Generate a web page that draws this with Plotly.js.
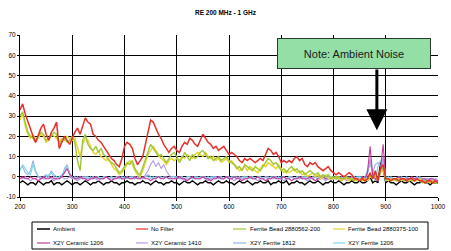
<!DOCTYPE html>
<html>
<head>
<meta charset="utf-8">
<script src="https://cdn.plot.ly/plotly-3.0.1.min.js"></script>
<style>html,body{margin:0;padding:0;background:#fff}#chart{width:451px;height:251px}</style>
</head>
<body>
<div id="chart"></div>
<script>
// Frequency axis (MHz), 5 MHz steps from 200 to 1000
const freq = [];
for (let f = 200; f <= 1000; f += 5) freq.push(f);

const seriesNames = ["Ambient", "No Filter", "Ferrite Bead 2880562-200", "Ferrite Bead 2880375-100",
  "X2Y Ceramic 1206", "X2Y Ceramic 1410", "X2Y Ferrite 1812", "X2Y Ferrite 1206"];

const ambient = [
 -3,-2,-3,-4,-3,-3,-4,-2,-3,-4,-3,-3,-2,-4,-3,-3,-4,-3,-2,-3,
 -4,-3,-3,-4,-3,-2,-3,-4,-3,-3,-2,-3,-4,-3,-3,-2,-3,-3,-4,-3,
 -3,-2,-3,-3,-4,-3,-3,-2,-3,-3,-4,-3,-2,-3,-3,-4,-3,-3,-2,-3,
 -3,-4,-3,-2,-3,-3,-2,-3,-4,-3,-3,-2,-3,-3,-4,-3,-2,-3,-3,-2,
 -3,-3,-4,-3,-2,-3,-3,-2,-3,-4,-3,-3,-2,-3,-3,-2,-4,-3,-3,-2,
 -3,-3,-2,-4,-3,-3,-2,-3,-3,-4,-3,-2,-3,-3,-2,-3,-4,-3,-3,-2,
 -3,-3,-2,-3,-4,-3,-3,-2,-3,-3,-2,-3,-3,-2,0,-3,-2,-3,7,4,
 -3,-2,-3,-3,-4,-3,-2,-3,-3,-2,-3,-4,-3,-3,-2,-3,-3,-4,-3,-3,
 -3];

const noFilter = [
 33,36,31,27,23,20,17,21,24,26,21,18,22,24,27,14,17,20,18,16,
 19,22,24,21,25,29,27,26,21,20,18,17,15,13,11,9,8,6,5,9,
 15,17,16,14,9,6,8,10,16,22,28,27,24,21,19,16,14,12,14,15,
 13,12,15,17,16,19,18,16,15,18,21,19,17,16,14,15,13,14,15,13,
 11,12,11,10,8,7,9,8,9,8,7,8,9,8,11,14,13,11,12,10,
 7,8,7,8,7,9,10,8,9,6,5,7,6,7,5,4,3,4,5,3,
 2,1,2,1,0,1,2,1,-1,-1,-2,-1,-2,-1,2,-1,3,-2,4,6,
 -1,-1,-2,-1,-1,-2,-1,-1,-2,-1,-1,-2,-1,-2,-2,-3,-2,-2,-3,-2,
 -3];

const bead562 = [
 30,32,27,22,20,19,17,20,22,21,18,19,20,22,21,16,18,19,17,18,
 20,17,8,3,18,21,16,14,13,15,12,14,11,10,8,7,6,4,2,3,
 5,7,6,8,4,2,1,5,9,13,16,14,12,10,11,9,7,9,11,12,
 10,7,9,12,10,8,11,9,10,12,13,11,9,10,8,9,10,8,9,10,
 8,7,6,4,5,3,6,5,4,3,5,4,3,5,7,9,8,6,7,5,
 3,4,2,4,5,3,4,2,3,1,2,3,2,1,2,0,1,0,1,-1,
 0,-1,0,-1,-1,0,-1,-1,-2,-1,-2,-1,-2,-1,1,-1,2,-2,3,5,
 -2,-1,-2,-1,-2,-2,-1,-2,-2,-1,-2,-2,-1,-2,-3,-2,-3,-2,-3,-3,
 -3];

const bead375 = [
 28,31,25,21,19,21,18,19,21,20,17,18,21,20,19,17,19,18,20,19,
 18,19,15,10,16,19,18,15,12,11,13,10,9,8,9,6,4,3,1,2,
 4,6,8,6,3,1,0,3,7,11,13,15,13,11,9,8,6,8,9,8,
 9,8,10,9,11,10,9,11,12,11,10,12,10,9,10,8,9,7,8,9,
 7,8,6,5,3,4,5,3,5,4,3,2,4,6,5,7,6,5,4,6,
 4,2,3,2,3,4,2,3,1,2,0,1,2,0,1,-1,0,1,-1,0,
 -1,0,-1,-2,-1,-1,-2,-1,-1,-2,-1,-2,-1,-2,0,-1,1,-2,2,3,
 -1,-2,-1,-2,-1,-1,-2,-1,-2,-2,-1,-2,-2,-1,-2,-3,-2,-3,-2,-3,
 -3];

const cer1206 = [
 -1,0,-1,-1,0,-1,-1,-2,-1,0,-1,-1,0,-1,-1,-1,0,2,4,1,
 0,-1,-1,0,-1,-1,-2,-1,-1,0,-1,-1,-1,0,-1,-2,-1,-1,0,-1,
 -1,0,-1,-1,0,-1,-1,0,-1,-1,-2,-1,-1,0,-1,-1,0,-1,-1,-1,
 -1,0,-1,-1,-2,-1,0,-1,-1,-1,0,-1,-1,-2,-1,-1,0,-1,-1,0,
 -1,-1,0,-1,-1,-2,-1,-1,0,-1,-1,0,-1,-1,-2,-1,-1,0,-1,-1,
 -1,0,-1,-1,-2,-1,-1,0,-1,-1,-1,0,-1,-2,-1,-1,0,-1,-1,-1,
 -1,0,-1,-2,-1,-1,0,-1,-1,-1,-2,0,-1,2,15,1,-1,-2,4,16,
 -1,-1,-2,-1,-1,0,-1,-2,-1,-1,0,-1,-1,-2,-1,-1,-2,-1,-1,-2,
 -2];

const cer1410 = [
 -1,-1,0,-1,-2,-1,-1,0,-1,-1,-1,0,-1,-2,-1,-1,0,-1,-1,0,
 -1,-1,-2,-1,0,-1,-1,-1,0,-1,-2,-1,-1,0,-1,-1,-1,0,-1,-1,
 -1,0,-1,-1,-1,0,-1,-1,1,3,6,8,5,7,4,6,3,1,-1,-1,
 0,-1,-1,-2,-1,-1,0,-1,-1,-1,0,-1,-2,-1,-1,0,-1,-1,-1,0,
 -1,-1,-2,-1,0,-1,-1,-1,0,-1,-1,-2,-1,-1,0,-1,-1,-1,0,-1,
 -1,-2,-1,-1,0,-1,-1,-1,0,-1,-2,-1,-1,0,-1,-1,-1,-2,-1,0,
 -1,-1,-1,0,-1,-2,-1,-1,0,-1,-1,-1,-2,1,9,0,-1,-2,2,10,
 -1,-2,-1,-1,-1,0,-1,-1,-2,-1,-1,-1,0,-1,-2,-1,-1,-1,-2,-1,
 -2];

const fer1812 = [
 4,5,2,1,3,8,3,0,-1,0,1,0,3,1,0,-1,0,4,6,2,
 0,-1,0,-1,0,0,-1,0,-1,0,0,-1,0,0,-1,0,-1,0,0,-1,
 0,-1,0,0,-1,0,0,-1,0,1,0,-1,0,0,-1,0,0,-1,0,0,
 -1,0,0,-1,0,0,-1,0,0,-1,0,0,-1,0,0,-1,0,0,-1,0,
 0,-1,0,0,-1,0,0,-1,0,0,-1,0,0,-1,0,0,-1,0,0,-1,
 0,0,-1,0,0,-1,0,0,-1,0,0,-1,0,0,-1,0,0,-1,0,0,
 -1,0,0,-1,0,0,-1,0,0,-1,0,0,-1,3,8,2,6,7,5,9,
 0,-1,0,-1,-1,0,-1,-1,0,-1,-2,-1,-1,0,-1,-2,-1,-1,-2,-1,
 -2];

const fer1206 = [
 3,6,4,2,1,6,2,0,0,-1,0,1,2,0,-1,0,1,3,5,1,
 -1,0,-1,0,-1,0,0,-1,0,-1,0,-1,0,0,-1,0,-1,0,-1,0,
 -1,0,-1,0,0,-1,0,-1,0,0,-1,0,-1,0,0,-1,0,-1,0,0,
 0,-1,0,-1,0,0,-1,0,-1,0,0,-1,0,-1,0,0,-1,0,-1,0,
 -1,0,0,-1,0,-1,0,0,-1,0,-1,0,0,-1,0,-1,0,0,-1,0,
 -1,0,-1,0,0,-1,0,-1,0,0,-1,0,-1,0,0,-1,0,-1,0,0,
 0,-1,0,-1,0,0,-1,0,-1,0,0,-1,0,2,6,3,-2,5,8,6,
 -1,0,-1,-1,-2,-1,0,-1,-1,-2,-1,-1,0,-1,-1,-2,-1,-1,-1,-2,
 -2];

const xTicks = [200, 300, 400, 500, 600, 700, 800, 900, 1000];
const yTicks = [-10, 0, 10, 20, 30, 40, 50, 60, 70];

const FONT = "Liberation Sans, Arial, sans-serif";

// ---- styling ----
const W = 451, H = 251;
const M = {l: 20, r: 13, t: 35, b: 54};
const PW = W - M.l - M.r, PH = H - M.t - M.b;
const px2x = p => (p - M.l) / PW;
const py2y = p => (H - M.b - p) / PH;

const colors = ["#000000", "#e8302a", "#9fc63a", "#e8d42c", "#c43d9c", "#b79be3", "#8fb3e6", "#7fd6ea"];
const widths = [1.4, 1.5, 1.4, 1.4, 1.1, 1.1, 1.1, 1.1];
const seriesY = [ambient, noFilter, bead562, bead375, cer1206, cer1410, fer1812, fer1206];
const drawOrder = [0, 6, 7, 5, 4, 3, 2, 1];

const data = drawOrder.map(i => ({
  x: freq, y: seriesY[i], name: seriesNames[i], type: "scatter", mode: "lines",
  line: {color: colors[i], width: widths[i]}, showlegend: false, hoverinfo: "skip"
}));

// legend drawn as paper-positioned shapes/annotations (compact 4x2 grid like the original)
const legCols = [{l0: 37, l1: 50, t: 51}, {l0: 136, l1: 148, t: 149}, {l0: 233, l1: 246, t: 248}, {l0: 333, l1: 345, t: 346}];
const legRows = [229, 243];
const shapes = [{type: "rect", xref: "paper", yref: "paper",
  x0: px2x(32), x1: px2x(428), y0: py2y(249), y1: py2y(222),
  line: {color: "#000", width: 1}, fillcolor: "rgba(0,0,0,0)"}];
const annotations = [];
seriesNames.forEach((nm, i) => {
  const c = legCols[i % 4], r = legRows[Math.floor(i / 4)];
  shapes.push({type: "line", xref: "paper", yref: "paper",
    x0: px2x(c.l0), x1: px2x(c.l1), y0: py2y(r), y1: py2y(r),
    line: {color: colors[i], width: i === 0 ? 1.5 : 1.2}});
  annotations.push({xref: "paper", yref: "paper", x: px2x(c.t), y: py2y(r), text: nm,
    showarrow: false, xanchor: "left", yanchor: "middle",
    font: {family: FONT, size: 6, color: "#000"}});
});

annotations.push(
  {x: 883, y: 23, ax: 883, ay: 53.7, xref: "x", yref: "y", axref: "x", ayref: "y",
    text: "", showarrow: true, arrowhead: 2, arrowsize: 1.4, arrowwidth: 3, arrowcolor: "#000", standoff: 0},
  {x: 839, y: 61.1, xref: "x", yref: "y", text: "Note: Ambient Noise", showarrow: false,
    xanchor: "center", yanchor: "middle", width: 150, height: 27, borderpad: 1,
    bgcolor: "#93dfa6", bordercolor: "#2b3a2e", borderwidth: 1,
    font: {family: FONT, size: 11, color: "#1a1a1a"}}
);

const layout = {
  width: W, height: H,
  margin: {l: M.l, r: M.r, t: M.t, b: M.b, pad: 0},
  paper_bgcolor: "#ffffff", plot_bgcolor: "#ffffff",
  font: {family: FONT, size: 6, color: "#000"},
  title: {text: "<b>RE 200 MHz - 1 GHz</b>", font: {family: FONT, size: 6.5, color: "#000"},
    x: 0.5, xanchor: "center", y: 0.948, yanchor: "middle"},
  showlegend: false,
  xaxis: {range: [200, 1000], tickvals: xTicks, ticktext: xTicks.map(String),
    showgrid: true, gridcolor: "#000", gridwidth: 1, zeroline: false,
    showline: true, linecolor: "#000", linewidth: 1, ticks: "outside", ticklen: 3, tickcolor: "#000",
    tickfont: {family: FONT, size: 6.5, color: "#000"}, fixedrange: true},
  yaxis: {range: [-10, 70], tickvals: yTicks, ticktext: yTicks.map(String),
    showgrid: true, gridcolor: "#000", gridwidth: 1, zeroline: false,
    showline: true, linecolor: "#000", linewidth: 1, ticks: "outside", ticklen: 2, tickcolor: "#000",
    tickfont: {family: FONT, size: 6.5, color: "#000"}, fixedrange: true},
  shapes: shapes,
  annotations: annotations
};

Plotly.newPlot("chart", data, layout, {displayModeBar: false, staticPlot: true});
</script>
</body>
</html>
